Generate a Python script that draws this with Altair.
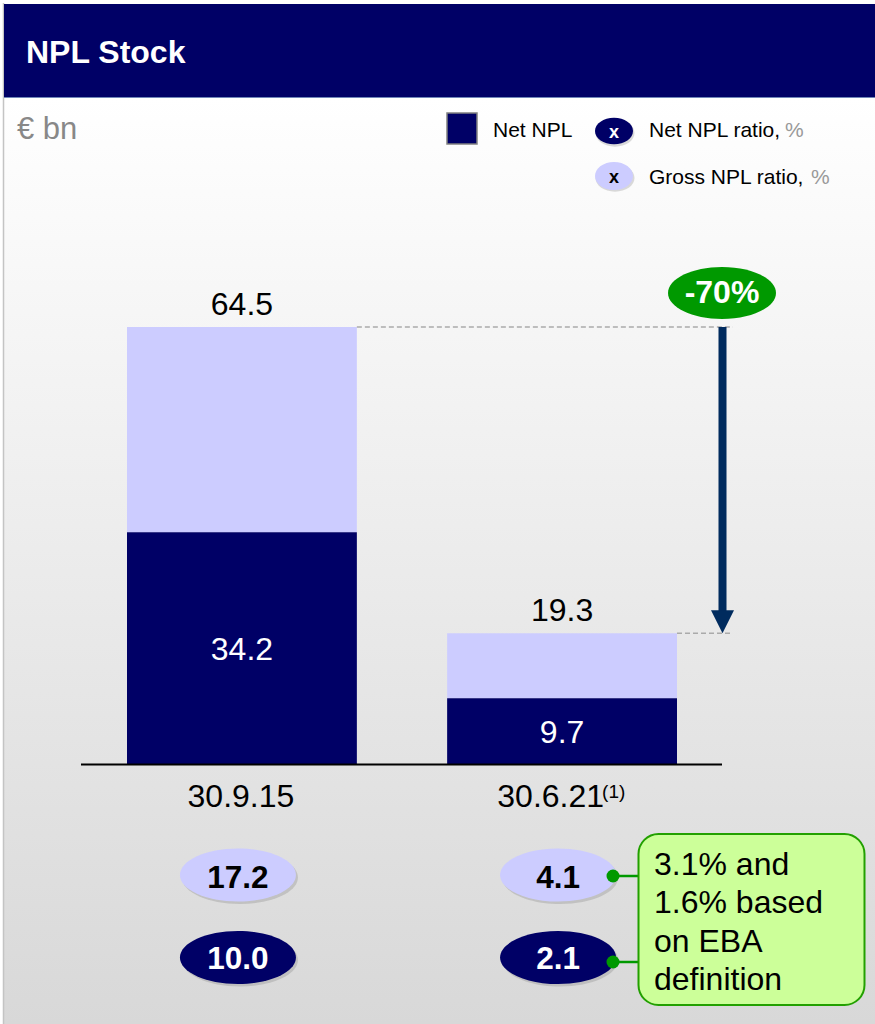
import altair as alt
import pandas as pd

# ---------------- data ----------------
categories = ["30.9.15", "30.6.21"]
footnotes = ["", "(1)"]
gross_npl = [64.5, 19.3]
net_npl = [34.2, 9.7]
gross_ratio = [17.2, 4.1]
net_ratio = [10.0, 2.1]
change_label = "-70%"
title_text = "NPL Stock"
unit_text = "€ bn"
note_lines = ["3.1% and", "1.6% based", "on EBA", "definition"]

NAVY = "#000066"
LAV = "#CCCCFF"
ARROW = "#002B5E"
GREEN = "#009900"
FONT = "Liberation Sans"

df = pd.DataFrame({
    "cat": categories,
    "foot": footnotes,
    "gross": gross_npl,
    "net": net_npl,
    "gross_ratio": gross_ratio,
    "net_ratio": net_ratio,
})
arrow_df = pd.DataFrame({"from": [gross_npl[0]], "to": [gross_npl[-1]], "label": [change_label]})
one = pd.DataFrame({"k": [0]})

xscale = alt.Scale(domain=categories, range=[127, 677], paddingInner=0.282, paddingOuter=0)
yscale = alt.Scale(domain=[0, max(gross_npl)], range=[764, 327], nice=False, zero=True)


def X(**kw):
    return alt.X("cat:N", scale=xscale, axis=None, sort=categories, **kw)


def ellipse_path(r):
    k = 0.5523
    return (f"M -1 0 C -1 {-k*r:.4f} {-k:.4f} {-r:.4f} 0 {-r:.4f} "
            f"C {k:.4f} {-r:.4f} 1 {-k*r:.4f} 1 0 "
            f"C 1 {k*r:.4f} {k:.4f} {r:.4f} 0 {r:.4f} "
            f"C {-k:.4f} {r:.4f} -1 {k*r:.4f} -1 0 Z")


def vtext(txt, x, y, size, color="#000000", weight="normal", align="left"):
    return alt.Chart(one).mark_text(
        text=txt, font=FONT, fontSize=size, color=color, fontWeight=weight,
        align=align, baseline="alphabetic"
    ).encode(x=alt.value(x), y=alt.value(y))


def vrect(x, x2, y, y2, **kw):
    return alt.Chart(one).mark_rect(**kw).encode(
        x=alt.value(x), x2=alt.value(x2), y=alt.value(y), y2=alt.value(y2))


# ---------------- background & header ----------------
bg = vrect(4, 875, 97, 1024, fill={
    "gradient": "linear", "x1": 0, "y1": 0, "x2": 0, "y2": 1,
    "stops": [{"offset": 0, "color": "#ffffff"}, {"offset": 1, "color": "#d8d8d8"}]})
frame = alt.Chart(one).mark_rule(color="#c4c4c4", strokeWidth=1.5).encode(
    x=alt.value(3.5), y=alt.value(3), y2=alt.value(1024))
header = vrect(4, 875, 4, 97, fill=NAVY)
header_line = alt.Chart(one).mark_rule(color="#6f86b8", strokeWidth=1.2).encode(
    x=alt.value(4), x2=alt.value(875), y=alt.value(97.5))
title = vtext(title_text, 26, 63, 32, color="#ffffff", weight="bold")
unit = vtext(unit_text, 17, 139, 31, color="#888888")

# ---------------- legend ----------------
leg_sq = vrect(447, 477, 113, 144, fill=NAVY, stroke="#808080", strokeWidth=1.5)
leg_t1 = vtext("Net NPL", 493, 137, 21)
leg_e_shadow = alt.Chart(pd.DataFrame({"y": [131, 176]})).mark_point(
    shape=ellipse_path(0.7), size=39 * 39, filled=True, color="#888888", opacity=0.3,
    strokeWidth=0, xOffset=1, yOffset=2
).encode(x=alt.value(614), y=alt.Y("y:Q", scale=None))
leg_e1 = alt.Chart(one).mark_point(
    shape=ellipse_path(0.7), size=38 * 38, filled=True, color=NAVY, opacity=1, strokeWidth=0
).encode(x=alt.value(614), y=alt.value(131))
leg_e2 = alt.Chart(one).mark_point(
    shape=ellipse_path(0.74), size=38 * 38, filled=True, color=LAV, opacity=1, strokeWidth=0
).encode(x=alt.value(614), y=alt.value(176))
leg_x1 = vtext("x", 614, 137.5, 18, color="#ffffff", weight="bold", align="center")
leg_x2 = vtext("x", 614, 182.5, 18, color="#000000", weight="bold", align="center")
leg_t2 = vtext("Net NPL ratio,", 649, 137, 21)
leg_p2 = vtext("%", 785, 137, 21, color="#999999")
leg_t3 = vtext("Gross NPL ratio,", 649, 184, 21)
leg_p3 = vtext("%", 811, 184, 21, color="#999999")

# ---------------- bars ----------------
base = alt.Chart(df)
bar_net = base.mark_bar(color=NAVY, opacity=1).encode(
    x=X(), y=alt.Y("net:Q", scale=yscale, axis=None), y2=alt.datum(0))
bar_rest = base.mark_bar(color=LAV, opacity=1).encode(
    x=X(), y=alt.Y("gross:Q", scale=yscale, axis=None), y2="net:Q")
baseline = alt.Chart(one).mark_rule(color="#000000", strokeWidth=2).encode(
    x=alt.value(81), x2=alt.value(722), y=alt.value(764.5))

lbl_gross = base.mark_text(font=FONT, fontSize=32, color="#000000", baseline="alphabetic",
                           dy=-12).encode(
    x=X(bandPosition=0.5), y=alt.Y("gross:Q", scale=yscale, axis=None),
    text=alt.Text("gross:Q", format=".1f"))
lbl_net = base.transform_calculate(mid="datum.net / 2").mark_text(
    font=FONT, fontSize=32, color="#ffffff", baseline="alphabetic", dy=12).encode(
    x=X(bandPosition=0.5), y=alt.Y("mid:Q", scale=yscale, axis=None),
    text=alt.Text("net:Q", format=".1f"))

# dashed guides + arrow
dash = base.mark_rule(color="#aaaaaa", strokeWidth=1.5, strokeDash=[5, 3]).encode(
    x=X(bandPosition=1), x2=alt.value(733), y=alt.Y("gross:Q", scale=yscale, axis=None))
shaft = alt.Chart(arrow_df).mark_rule(color=ARROW, strokeWidth=8, y2Offset=-18).encode(
    x=alt.value(722.5), y=alt.Y("from:Q", scale=yscale, axis=None), y2="to:Q")
head = alt.Chart(arrow_df).mark_point(
    shape="M -1 -1 L 1 -1 L 0 1 Z", size=23 * 23, filled=True, color=ARROW, opacity=1,
    strokeWidth=0, yOffset=-11.5).encode(
    x=alt.value(722.5), y=alt.Y("to:Q", scale=yscale, axis=None))
chg_ell = alt.Chart(arrow_df).mark_point(
    shape=ellipse_path(0.48), size=108 * 108, filled=True, color=GREEN, opacity=1,
    strokeWidth=0, yOffset=-34).encode(
    x=alt.value(722), y=alt.Y("from:Q", scale=yscale, axis=None))
chg_txt = alt.Chart(arrow_df).mark_text(
    font=FONT, fontSize=32, fontWeight="bold", color="#ffffff", baseline="alphabetic",
    dy=-24).encode(
    x=alt.value(722), y=alt.Y("from:Q", scale=yscale, axis=None), text="label:N")

# category labels
cat_plain = base.transform_filter("datum.foot == ''").mark_text(
    font=FONT, fontSize=32, color="#000000", baseline="alphabetic", dx=-1).encode(
    x=X(bandPosition=0.5), y=alt.value(807), text="cat:N")
cat_foot = base.transform_filter("datum.foot != ''").mark_text(
    font=FONT, fontSize=32, color="#000000", baseline="alphabetic", align="right", dx=42).encode(
    x=X(bandPosition=0.5), y=alt.value(807), text="cat:N")
foot_txt = base.transform_filter("datum.foot != ''").mark_text(
    font=FONT, fontSize=19, color="#000000", baseline="alphabetic", align="left", dx=40).encode(
    x=X(bandPosition=0.5), y=alt.value(798), text="foot:N")

# ratio ellipses
EP = ellipse_path(0.457)
ESZ = 116 * 116
shadow_g = base.mark_point(shape=EP, size=ESZ, filled=True, color="#808080", opacity=0.3,
                           strokeWidth=0, xOffset=-2, yOffset=2.5).encode(
    x=X(bandPosition=0.5), y=alt.value(875))
shadow_n = base.mark_point(shape=EP, size=ESZ, filled=True, color="#808080", opacity=0.3,
                           strokeWidth=0, xOffset=-2, yOffset=2.5).encode(
    x=X(bandPosition=0.5), y=alt.value(957.5))
ell_g = base.mark_point(shape=EP, size=ESZ, filled=True, color=LAV, opacity=1,
                        strokeWidth=0, xOffset=-4).encode(
    x=X(bandPosition=0.5), y=alt.value(875))
ell_n = base.mark_point(shape=EP, size=ESZ, filled=True, color=NAVY, opacity=1,
                        strokeWidth=0, xOffset=-4).encode(
    x=X(bandPosition=0.5), y=alt.value(957.5))
txt_g = base.mark_text(font=FONT, fontSize=31.5, fontWeight="bold", color="#000000",
                       baseline="alphabetic", dx=-4).encode(
    x=X(bandPosition=0.5), y=alt.value(888), text=alt.Text("gross_ratio:Q", format=".1f"))
txt_n = base.mark_text(font=FONT, fontSize=31.5, fontWeight="bold", color="#ffffff",
                       baseline="alphabetic", dx=-4).encode(
    x=X(bandPosition=0.5), y=alt.value(969), text=alt.Text("net_ratio:Q", format=".1f"))

# callout
conn1 = alt.Chart(one).mark_rule(color=GREEN, strokeWidth=2.5).encode(
    x=alt.value(613), x2=alt.value(639), y=alt.value(876))
conn2 = alt.Chart(one).mark_rule(color=GREEN, strokeWidth=2.5).encode(
    x=alt.value(613), x2=alt.value(639), y=alt.value(962))
dots = alt.Chart(pd.DataFrame({"y": [876, 962]})).mark_point(
    shape="circle", size=169, filled=True, color=GREEN, opacity=1, strokeWidth=0).encode(
    x=alt.value(613), y=alt.Y("y:Q", scale=None))
box = vrect(638.5, 864.5, 834, 1005, fill="#CCFF99", stroke="#22A000", strokeWidth=2,
            cornerRadius=20)
note = alt.Chart(one).mark_text(
    text=note_lines, font=FONT, fontSize=32, color="#000000", align="left",
    baseline="alphabetic", lineHeight=38.3).encode(x=alt.value(654), y=alt.value(875))

chart = alt.layer(
    bg, frame, header, header_line, title, unit,
    leg_sq, leg_t1, leg_e_shadow, leg_e1, leg_e2, leg_x1, leg_x2, leg_t2, leg_p2, leg_t3, leg_p3,
    bar_rest, bar_net, baseline, lbl_gross, lbl_net,
    dash, shaft, head, chg_ell, chg_txt,
    cat_plain, cat_foot, foot_txt,
    shadow_g, shadow_n, ell_g, ell_n, txt_g, txt_n,
    conn1, conn2, dots, box, note,
).properties(
    width=875, height=1024, padding=0,
    autosize=alt.AutoSizeParams(type="none"),
    background="#ffffff",
).configure_view(stroke=None)

chart.save("out.html", embed_options={"renderer": "svg", "actions": False})
